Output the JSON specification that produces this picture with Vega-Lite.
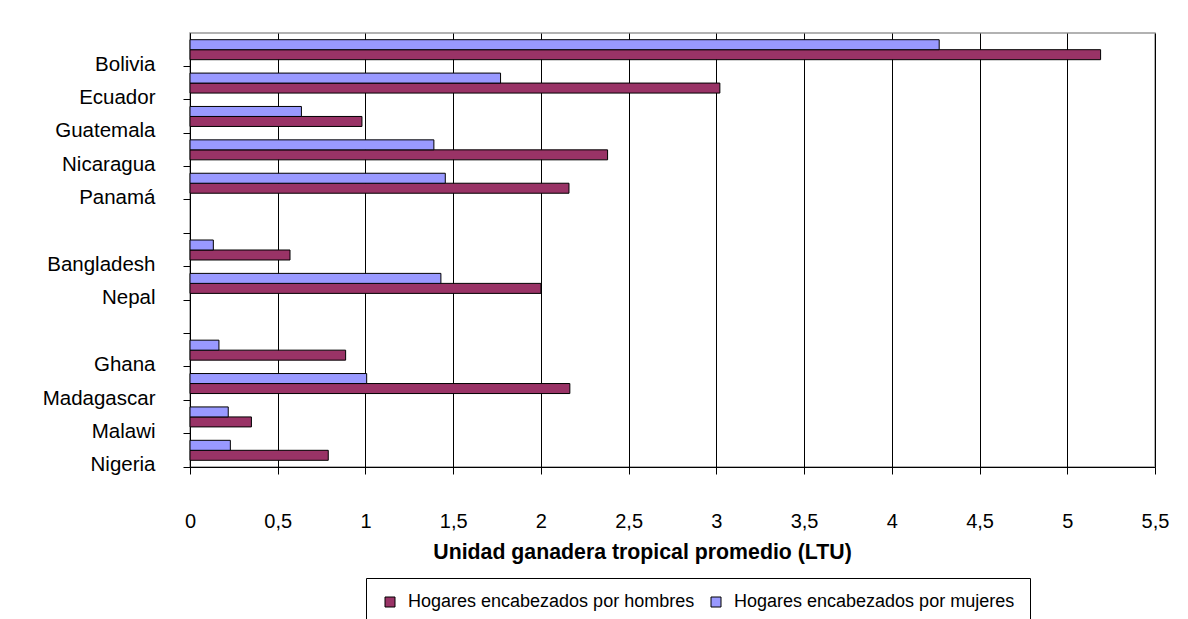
{
  "$schema": "https://vega.github.io/schema/vega-lite/v6.json",
  "width": 965,
  "height": 434,
  "autosize": {"type": "none"},
  "padding": {"left": 190, "top": 33, "right": 33, "bottom": 152},
  "background": "white",
  "config": {
    "font": "Liberation Sans",
    "view": {"stroke": "#999999", "strokeWidth": 1.5}
  },
  "data": {
    "values": [
      {"pais": "Bolivia", "serie": "Hogares encabezados por hombres", "valor": 5.19},
      {"pais": "Bolivia", "serie": "Hogares encabezados por mujeres", "valor": 4.27},
      {"pais": "Ecuador", "serie": "Hogares encabezados por hombres", "valor": 3.02},
      {"pais": "Ecuador", "serie": "Hogares encabezados por mujeres", "valor": 1.77},
      {"pais": "Guatemala", "serie": "Hogares encabezados por hombres", "valor": 0.98},
      {"pais": "Guatemala", "serie": "Hogares encabezados por mujeres", "valor": 0.635},
      {"pais": "Nicaragua", "serie": "Hogares encabezados por hombres", "valor": 2.38},
      {"pais": "Nicaragua", "serie": "Hogares encabezados por mujeres", "valor": 1.39},
      {"pais": "Panamá", "serie": "Hogares encabezados por hombres", "valor": 2.16},
      {"pais": "Panamá", "serie": "Hogares encabezados por mujeres", "valor": 1.455},
      {"pais": "Bangladesh", "serie": "Hogares encabezados por hombres", "valor": 0.57},
      {"pais": "Bangladesh", "serie": "Hogares encabezados por mujeres", "valor": 0.133},
      {"pais": "Nepal", "serie": "Hogares encabezados por hombres", "valor": 2.0},
      {"pais": "Nepal", "serie": "Hogares encabezados por mujeres", "valor": 1.43},
      {"pais": "Ghana", "serie": "Hogares encabezados por hombres", "valor": 0.887},
      {"pais": "Ghana", "serie": "Hogares encabezados por mujeres", "valor": 0.165},
      {"pais": "Madagascar", "serie": "Hogares encabezados por hombres", "valor": 2.165},
      {"pais": "Madagascar", "serie": "Hogares encabezados por mujeres", "valor": 1.007},
      {"pais": "Malawi", "serie": "Hogares encabezados por hombres", "valor": 0.35},
      {"pais": "Malawi", "serie": "Hogares encabezados por mujeres", "valor": 0.218},
      {"pais": "Nigeria", "serie": "Hogares encabezados por hombres", "valor": 0.788},
      {"pais": "Nigeria", "serie": "Hogares encabezados por mujeres", "valor": 0.23}
    ]
  },
  "mark": {"type": "bar", "stroke": "black", "strokeWidth": 1},
  "encoding": {
    "y": {
      "field": "pais",
      "type": "nominal",
      "scale": {
        "domain": ["Bolivia", "Ecuador", "Guatemala", "Nicaragua", "Panamá", " ", "Bangladesh", "Nepal", "  ", "Ghana", "Madagascar", "Malawi", "Nigeria"],
        "paddingInner": 0,
        "paddingOuter": 0
      },
      "axis": {
        "title": null,
        "bandPosition": 1,
        "domainColor": "black",
        "domainWidth": 1,
        "tickColor": "black",
        "tickSize": 7,
        "labelFontSize": 20.5,
        "labelColor": "black",
        "labelPadding": 28,
        "labelOffset": 15,
        "labelLimit": 300,
        "grid": false
      }
    },
    "yOffset": {
      "field": "serie",
      "sort": ["Hogares encabezados por mujeres", "Hogares encabezados por hombres"],
      "scale": {"paddingInner": 0, "paddingOuter": 0.67}
    },
    "x": {
      "field": "valor",
      "type": "quantitative",
      "scale": {"domain": [0, 5.5], "nice": false, "zero": true},
      "axis": {
        "values": [0, 0.5, 1, 1.5, 2, 2.5, 3, 3.5, 4, 4.5, 5, 5.5],
        "labelExpr": "replace(toString(datum.value), '.', ',')",
        "grid": true,
        "gridColor": "black",
        "gridOpacity": 1,
        "gridWidth": 1,
        "domainColor": "black",
        "tickColor": "black",
        "tickSize": 7,
        "labelFontSize": 20,
        "labelColor": "black",
        "labelPadding": 37,
        "labelFlush": false,
        "labelOverlap": false,
        "title": "Unidad ganadera tropical promedio (LTU)",
        "titleFontSize": 21.3,
        "titleFontWeight": "bold",
        "titleColor": "black",
        "titleX": 452,
        "titleY": 91,
        "titleBaseline": "alphabetic"
      }
    },
    "color": {
      "field": "serie",
      "type": "nominal",
      "scale": {
        "domain": ["Hogares encabezados por hombres", "Hogares encabezados por mujeres"],
        "range": ["#993366", "#9999FF"]
      },
      "legend": {
        "title": null,
        "orient": "none",
        "legendX": 176,
        "legendY": 545,
        "direction": "horizontal",
        "strokeColor": "black",
        "fillColor": "white",
        "padding": 15,
        "symbolType": "square",
        "symbolSize": 100,
        "symbolStrokeColor": "black",
        "symbolStrokeWidth": 1,
        "symbolOpacity": 1,
        "labelFontSize": 18,
        "labelColor": "black",
        "labelOffset": 9,
        "columnPadding": 12,
        "labelLimit": 400
      }
    }
  }
}
